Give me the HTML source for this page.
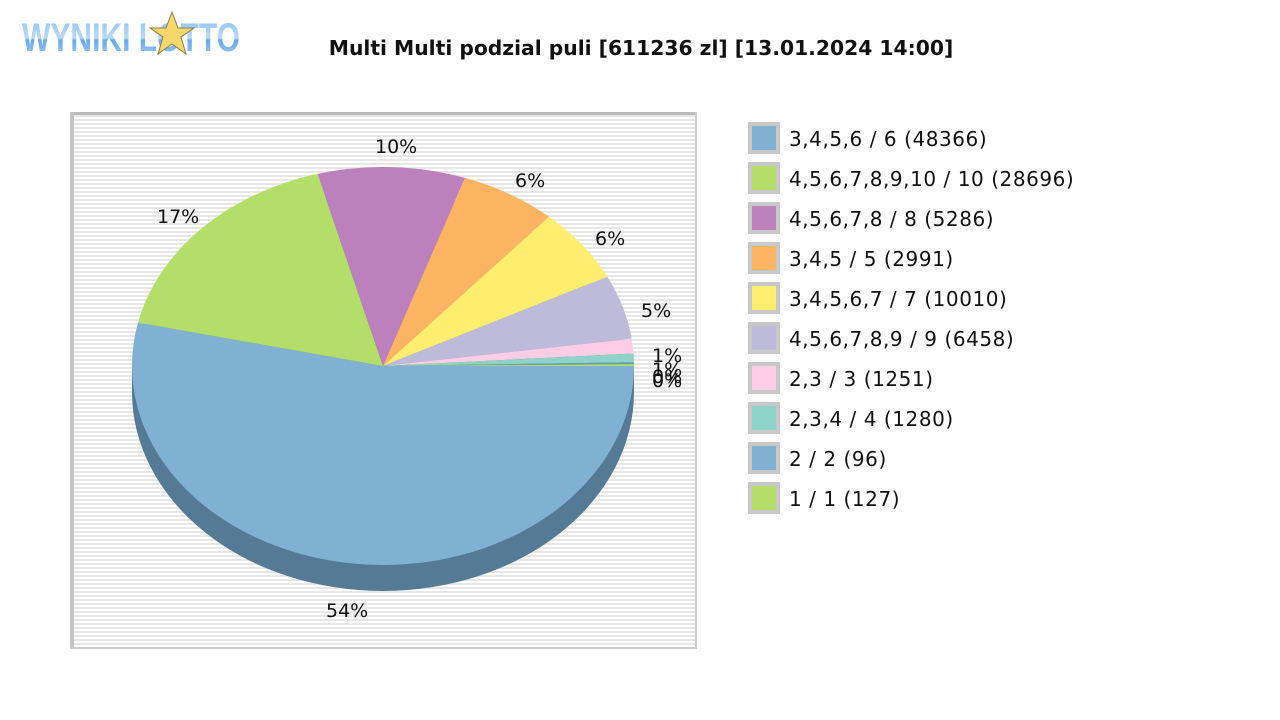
<!DOCTYPE html>
<html><head><meta charset="utf-8"><style>
html,body{margin:0;padding:0;background:#fff;}
body{width:1280px;height:720px;position:relative;overflow:hidden;font-family:"DejaVu Sans","Liberation Sans",sans-serif;}
.t{position:absolute;color:#111;white-space:nowrap;}
.lg{position:absolute;left:748px;width:24px;height:24px;border:4px solid #c8c8c8;}
.lt{position:absolute;left:789px;font-size:20px;color:#111;white-space:nowrap;letter-spacing:0.55px;}
</style></head><body>
<svg width="1280" height="720" style="position:absolute;left:0;top:0">
<defs>
<pattern id="st" x="0" y="115" width="4" height="4" patternUnits="userSpaceOnUse">
<rect width="4" height="4" fill="#ffffff"/><rect width="4" height="2" fill="#e6e6e6"/>
</pattern>
<linearGradient id="lgb" x1="0" y1="0" x2="0" y2="1"><stop offset="0" stop-color="#8ec0f0"/><stop offset="0.5" stop-color="#b8daf8"/><stop offset="0.55" stop-color="#6aa8e8"/><stop offset="1" stop-color="#a8d0f5"/></linearGradient>
</defs>
<text x="22" y="51" font-family="Liberation Sans" font-weight="bold" font-size="40" fill="url(#lgb)" textLength="218" lengthAdjust="spacingAndGlyphs">WYNIKI LOTTO</text>
<polygon points="172,12 178,28 194,28 181,37 186,54 172,44 158,54 163,37 150,28 166,28" fill="#f5d86a" stroke="#8a7a50" stroke-width="1"/>
<rect x="70" y="112" width="627" height="537" fill="url(#st)"/>
<rect x="70" y="112" width="627" height="3" fill="#bbbbbb"/>
<rect x="70" y="112" width="4" height="537" fill="#c4c4c4"/>
<rect x="695" y="112" width="2" height="537" fill="#cccccc"/>
<rect x="70" y="647" width="627" height="2" fill="#cccccc"/>
<g id="pie"></g>
</svg>
<div class="t" style="left:0;width:1282px;text-align:center;top:36px;font-size:20.3px;font-weight:bold;">Multi Multi podzial puli [611236 zl] [13.01.2024 14:00]</div>
<div class="t" style="left:326px;top:600px;font-size:19px;">54%</div>
<div class="t" style="left:157px;top:206px;font-size:19px;">17%</div>
<div class="t" style="left:375px;top:136px;font-size:19px;">10%</div>
<div class="t" style="left:515px;top:170px;font-size:19px;">6%</div>
<div class="t" style="left:595px;top:228px;font-size:19px;">6%</div>
<div class="t" style="left:641px;top:300px;font-size:19px;">5%</div>
<div class="t" style="left:652px;top:345px;font-size:19px;">1%</div>
<div class="t" style="left:652px;top:359px;font-size:19px;">1%</div>
<div class="t" style="left:652px;top:366px;font-size:19px;">0%</div>
<div class="t" style="left:652px;top:370px;font-size:19px;">0%</div>

<div class="lg" style="top:122px;background:#80b1d3"></div><div class="lt" style="top:127px">3,4,5,6 / 6 (48366)</div>
<div class="lg" style="top:162px;background:#b3de69"></div><div class="lt" style="top:167px">4,5,6,7,8,9,10 / 10 (28696)</div>
<div class="lg" style="top:202px;background:#bc80bd"></div><div class="lt" style="top:207px">4,5,6,7,8 / 8 (5286)</div>
<div class="lg" style="top:242px;background:#fdb462"></div><div class="lt" style="top:247px">3,4,5 / 5 (2991)</div>
<div class="lg" style="top:282px;background:#ffed6f"></div><div class="lt" style="top:287px">3,4,5,6,7 / 7 (10010)</div>
<div class="lg" style="top:322px;background:#bebada"></div><div class="lt" style="top:327px">4,5,6,7,8,9 / 9 (6458)</div>
<div class="lg" style="top:362px;background:#fccde5"></div><div class="lt" style="top:367px">2,3 / 3 (1251)</div>
<div class="lg" style="top:402px;background:#8dd3c7"></div><div class="lt" style="top:407px">2,3,4 / 4 (1280)</div>
<div class="lg" style="top:442px;background:#80b1d3"></div><div class="lt" style="top:447px">2 / 2 (96)</div>
<div class="lg" style="top:482px;background:#b3de69"></div><div class="lt" style="top:487px">1 / 1 (127)</div>
<script>
(function(){
var cx=383,cy=366,rx=251,ry=199,d=26;
var g=document.getElementById('pie');var ns='http://www.w3.org/2000/svg';
function el(n,a){var e=document.createElementNS(ns,n);for(var k in a)e.setAttribute(k,a[k]);g.appendChild(e);return e;}
el('ellipse',{cx:cx,cy:cy+d,rx:rx,ry:ry,fill:'#557a96'});
el('rect',{x:cx-rx,y:cy,width:2*rx,height:d,fill:'#557a96'});
var ends=[0.535,0.708,0.803,0.865,0.926,0.978,0.99,0.997,0.9985,1];
var cols=['#80b1d3','#b3de69','#bc80bd','#fdb462','#ffed6f','#bebada','#fccde5','#8dd3c7','#6a9bb0','#b3de69'];
var s=0;
for(var i=0;i<ends.length;i++){
 var a0=s*2*Math.PI,a1=ends[i]*2*Math.PI;
 var x0=cx+rx*Math.cos(a0),y0=cy+ry*Math.sin(a0),x1=cx+rx*Math.cos(a1),y1=cy+ry*Math.sin(a1);
 var la=(a1-a0)>Math.PI?1:0;
 el('path',{d:'M'+cx+','+cy+' L'+x0+','+y0+' A'+rx+','+ry+' 0 '+la+' 1 '+x1+','+y1+' Z',fill:cols[i]});
 s=ends[i];
}
})();
</script>
</body></html>
